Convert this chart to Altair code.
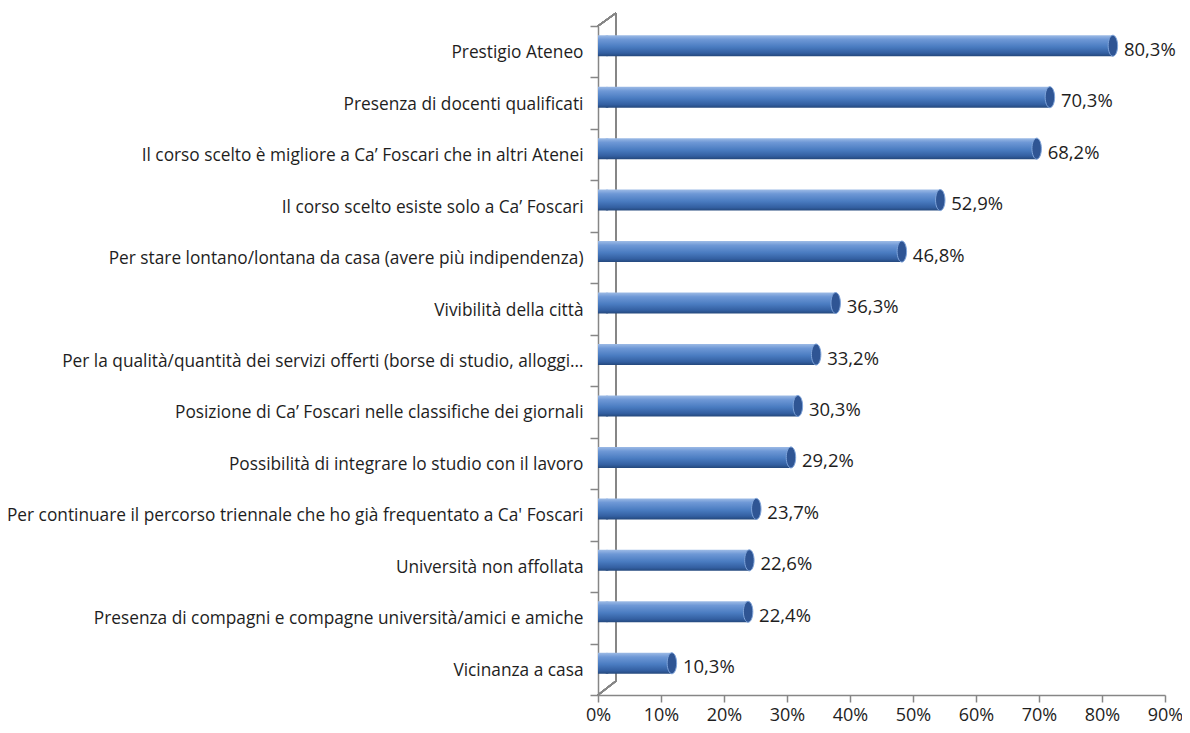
import altair as alt
import pandas as pd

categories = [
    "Prestigio Ateneo",
    "Presenza di docenti qualificati",
    "Il corso scelto è migliore a Ca’ Foscari che in altri Atenei",
    "Il corso scelto esiste solo a Ca’ Foscari",
    "Per stare lontano/lontana da casa (avere più indipendenza)",
    "Vivibilità della città",
    "Per la qualità/quantità dei servizi offerti (borse di studio, alloggi…",
    "Posizione di Ca’ Foscari nelle classifiche dei giornali",
    "Possibilità di integrare lo studio con il lavoro",
    "Per continuare il percorso triennale che ho già frequentato a Ca' Foscari",
    "Università non affollata",
    "Presenza di compagni e compagne università/amici e amiche",
    "Vicinanza a casa",
]
values = [80.3, 70.3, 68.2, 52.9, 46.8, 36.3, 33.2, 30.3, 29.2, 23.7, 22.6, 22.4, 10.3]
labels = [f"{v:.1f}".replace(".", ",") + "%" for v in values]
x_ticks = list(range(0, 100, 10))

df = pd.DataFrame({"cat": categories, "val": values, "lab": labels, "zero": [0] * len(values)})

FONT = "Open Sans"
AXIS_COL = "#868686"
TXT = "#1e1e1e"
W, H = 567, 669
BAR_H = 21
DX, DY = 9, -6

grad = alt.Gradient(
    gradient="linear", x1=0, y1=0, x2=0, y2=1,
    stops=[
        alt.GradientStop(offset=0.0, color="#9dbbe6"),
        alt.GradientStop(offset=0.2, color="#6e98d6"),
        alt.GradientStop(offset=0.55, color="#4a7cc1"),
        alt.GradientStop(offset=0.85, color="#335fa1"),
        alt.GradientStop(offset=1.0, color="#24487c"),
    ],
)

ellipse = "M0,-1A0.45,1 0 1,0 0,1A0.45,1 0 1,0 0,-1Z"

yenc = alt.Y(
    "cat:N", sort=categories, title=None,
    scale=alt.Scale(paddingInner=0, paddingOuter=0),
    axis=alt.Axis(
        labelFont=FONT, labelFontSize=17.3, labelColor=TXT, labelLimit=700,
        labelPadding=7, labelOffset=1, tickBand="extent", tickSize=8,
        tickColor=AXIS_COL, domainColor=AXIS_COL, domainWidth=1.5,
        tickWidth=1.5, grid=False,
    ),
)
xscale = alt.Scale(domain=[0, 90], nice=False, zero=True)
xenc = alt.X(
    "val:Q", scale=xscale, title=None,
    axis=alt.Axis(
        values=x_ticks, labelExpr="datum.value + '%'", labelFont=FONT,
        labelFontSize=18, labelColor=TXT, labelPadding=4, tickSize=7,
        labelFlush=False, labelOverlap=False,
        tickColor=AXIS_COL, domainColor=AXIS_COL, domainWidth=1.5, tickWidth=1.5,
        grid=False,
    ),
)

base = alt.Chart(df)

left_end = base.mark_point(
    shape=ellipse, size=BAR_H * BAR_H, filled=True, fill=grad, opacity=1,
    strokeWidth=0, xOffset=DX, yOffset=DY,
).encode(x=alt.X("zero:Q", scale=xscale), y=yenc)

bars = base.mark_bar(
    fill=grad, height=BAR_H, xOffset=DX, yOffset=DY,
).encode(x=xenc, x2=alt.X2("zero:Q"), y=yenc)

caps = base.mark_point(
    shape=ellipse, size=BAR_H * BAR_H, filled=True, fill="#2f5594",
    stroke="#7fa4da", strokeWidth=1, opacity=1, xOffset=DX, yOffset=DY,
).encode(x=alt.X("val:Q", scale=xscale), y=yenc)

text = base.mark_text(
    align="left", baseline="middle", dx=20, dy=-2, font=FONT, fontSize=18.5,
    color=TXT,
).encode(x=alt.X("val:Q", scale=xscale), y=yenc, text="lab:N")

wall_v = base.mark_rule(color=AXIS_COL, strokeWidth=1.5).encode(
    x=alt.value(18), y=alt.value(-13), y2=alt.value(H - 14)
)
wall_top = base.mark_rule(color=AXIS_COL, strokeWidth=1.5).encode(
    x=alt.value(0), x2=alt.value(18), y=alt.value(0), y2=alt.value(-13)
)
wall_bot = base.mark_rule(color=AXIS_COL, strokeWidth=1.5).encode(
    x=alt.value(0), x2=alt.value(18), y=alt.value(H), y2=alt.value(H - 14)
)

chart = alt.layer(wall_v, wall_top, wall_bot, left_end, bars, caps, text).properties(
    width=W, height=H,
    autosize=alt.AutoSizeParams(type="none"),
    padding={"left": 590, "top": 18, "right": 17, "bottom": 30},
    background="white",
).configure_view(stroke=None)

chart.save("out.html", embed_options={"renderer": "svg", "actions": False})
